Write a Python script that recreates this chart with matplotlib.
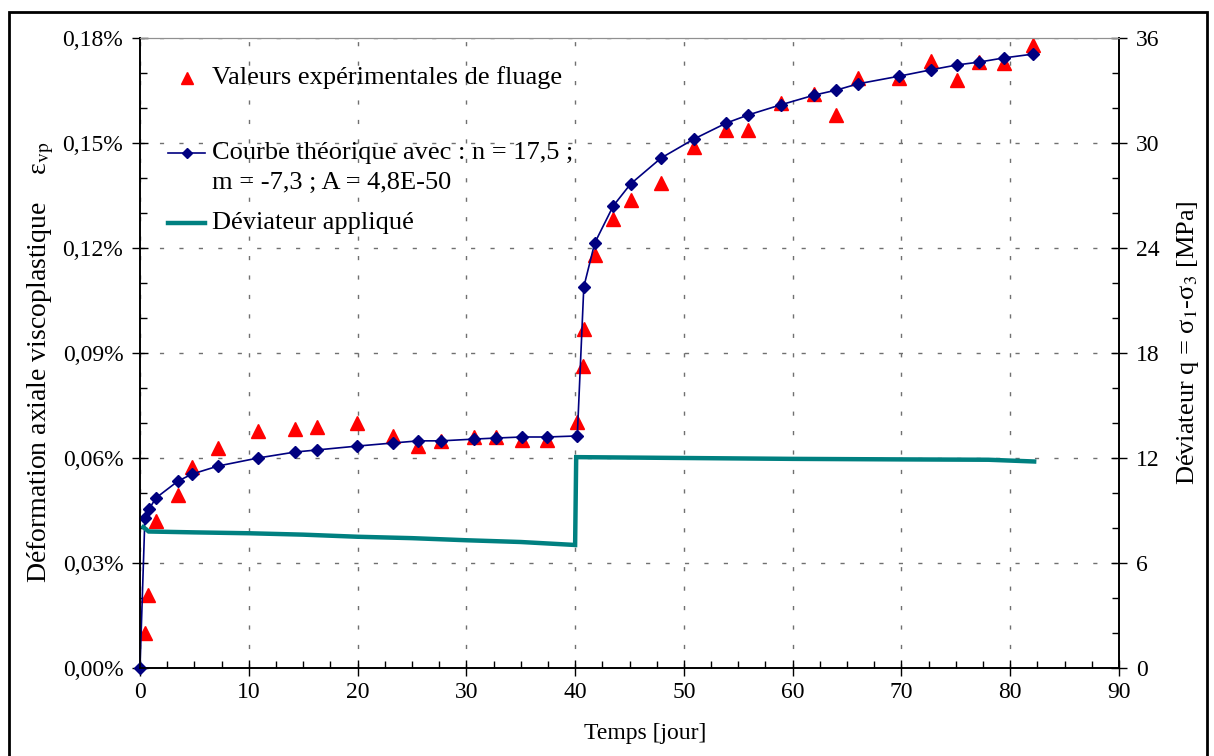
import matplotlib
matplotlib.use('Agg')
import matplotlib.pyplot as plt
from matplotlib.ticker import MultipleLocator, FuncFormatter
from matplotlib.patches import Rectangle

# courbe theorique (jours, deformation en %)
t_theo = [0, 0.45, 0.83, 1.47, 3.49, 4.78, 7.17, 10.85, 14.25, 16.27, 19.95, 23.3, 25.6,
          27.7, 30.7, 32.7, 35.1, 37.4, 40.2, 40.8, 41.8, 43.5, 45.1, 47.9, 50.9, 53.9,
          55.9, 58.9, 62.0, 64.0, 66.0, 69.8, 72.7, 75.1, 77.1, 79.4, 82.1]
eps_theo = [0, 0.0429, 0.0454, 0.0486, 0.0534, 0.0554, 0.0577, 0.0600, 0.0617, 0.0623,
            0.0634, 0.0643, 0.0649, 0.0649, 0.0654, 0.0657, 0.0660, 0.0660, 0.0663,
            0.1089, 0.1214, 0.1320, 0.1383, 0.1457, 0.1511, 0.1557, 0.1580, 0.1609,
            0.1637, 0.1651, 0.1669, 0.1691, 0.1709, 0.1723, 0.1731, 0.1743, 0.1754]

# valeurs experimentales
t_exp = [0.45, 0.75, 1.47, 3.5, 4.8, 7.2, 10.85, 14.25, 16.3, 19.95, 23.3, 25.6, 27.7,
         30.7, 32.7, 35.1, 37.4, 40.2, 40.7, 40.8, 41.8, 43.5, 45.1, 47.9, 50.9, 53.9,
         55.9, 58.9, 62.0, 64.0, 66.0, 69.8, 72.7, 75.1, 77.1, 79.4, 82.1]
eps_exp = [0.0100, 0.0209, 0.0420, 0.0494, 0.0575, 0.0628, 0.0677, 0.0683, 0.0689,
           0.0700, 0.0663, 0.0634, 0.0649, 0.0660, 0.0660, 0.0651, 0.0651, 0.0703,
           0.0863, 0.0969, 0.1180, 0.1283, 0.1337, 0.1386, 0.1489, 0.1537, 0.1537,
           0.1614, 0.1640, 0.1580, 0.1686, 0.1686, 0.1734, 0.1680, 0.1731, 0.1729, 0.1780]

# deviateur applique (MPa)
t_dev = [0.3, 0.8, 5, 10, 15, 20, 25, 30, 35, 40, 40.1, 50, 60, 70, 78, 82.2]
q_dev = [8.05, 7.8, 7.75, 7.7, 7.62, 7.5, 7.42, 7.3, 7.2, 7.03, 12.05, 12.0, 11.95,
         11.92, 11.9, 11.8]

plt.rcParams['font.family'] = ['Liberation Serif', 'DejaVu Serif']
plt.rcParams['mathtext.fontset'] = 'stix'
plt.rcParams['font.size'] = 16

rouge = '#FF0000'
marine = '#000080'
sarcelle = '#008080'

fig = plt.figure(figsize=(12.14, 7.56), dpi=100)
ax = fig.add_axes([140/1214, 1-668/756, 979/1214, 630/756])
ax2 = ax.twinx()

ax.plot(t_theo, eps_theo, color=marine, lw=1.2, marker='D', ms=6.5, clip_on=False, zorder=4)
ax.plot(t_exp, eps_exp, ls='none', marker='^', color=rouge, ms=10, zorder=3)
ax2.plot(t_dev, q_dev, color=sarcelle, lw=3.2, solid_joinstyle='miter')

ax.set_xlim(0, 90)
ax.set_ylim(0, 0.18)
ax2.set_ylim(0, 36)

ax.xaxis.set_major_locator(MultipleLocator(10))
ax.xaxis.set_minor_locator(MultipleLocator(2.5))
ax.yaxis.set_major_locator(MultipleLocator(0.03))
ax.yaxis.set_minor_locator(MultipleLocator(0.01))
ax2.yaxis.set_major_locator(MultipleLocator(6))
ax2.yaxis.set_minor_locator(MultipleLocator(2))
ax.yaxis.set_major_formatter(FuncFormatter(lambda v, p: ('%.2f%%' % v).replace('.', ',')))

for a in (ax, ax2):
    a.tick_params(which='major', direction='inout', length=12, width=1, pad=6, labelsize=17)
    a.tick_params(which='minor', direction='in', length=5, width=1)
ax.tick_params(axis='x', pad=4)

ax.grid(True, which='major', color='#707070', lw=1, ls=(0, (3, 11)))
ax.set_axisbelow(True)

ax.spines['top'].set_color('#909090')
ax2.spines['top'].set_color('#909090')
for a in (ax, ax2):
    a.spines['left'].set_linewidth(1.2)
    a.spines['right'].set_linewidth(1.2)
    a.spines['bottom'].set_linewidth(1.2)

ax.set_xlabel('Temps [jour]', fontsize=17)
ax.xaxis.set_label_coords(0.5158, -0.088)
ax.set_ylabel('Déformation axiale viscoplastique    ε$_{\\mathrm{vp}}$', fontsize=20)
ax.yaxis.set_label_coords(-0.086, 0.485)
ax2.set_ylabel('Déviateur q = σ$_1$-σ$_3$ [MPa]', fontsize=19)
ax2.yaxis.set_label_coords(1.057, 0.516)

# legende
tr = ax.transAxes
ax.plot([0.048], [0.937], marker='^', color=rouge, ms=9, transform=tr, clip_on=False)
ax.text(0.0735, 0.937, 'Valeurs expérimentales de fluage', transform=tr, va='center', fontsize=19)
ax.plot([0.0286, 0.0664], [0.817, 0.817], color=marine, lw=1.2, transform=tr, clip_on=False)
ax.plot([0.048], [0.817], marker='D', color=marine, ms=5, transform=tr, clip_on=False)
ax.text(0.0735, 0.817, 'Courbe théorique avec : n = 17,5 ;', transform=tr, va='center', fontsize=19)
ax.text(0.0735, 0.770, 'm = -7,3 ; A = 4,8E-50', transform=tr, va='center', fontsize=19)
ax.plot([0.0286, 0.0664], [0.706, 0.706], color=sarcelle, lw=3.2, transform=tr, clip_on=False)
ax.text(0.0735, 0.706, 'Déviateur appliqué', transform=tr, va='center', fontsize=19)

fig.patches.append(Rectangle((9/1214, -0.05), 1198/1214, 1.05 - 12/756, transform=fig.transFigure,
                             fill=False, edgecolor='black', lw=2))

fig.savefig('out.png', dpi=100)
